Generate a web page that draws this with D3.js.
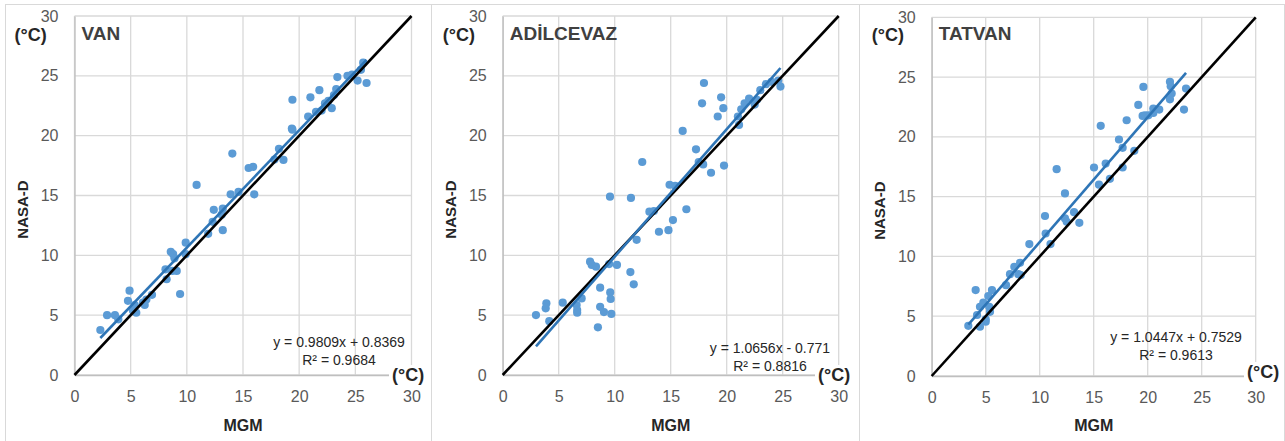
<!DOCTYPE html>
<html><head><meta charset="utf-8">
<script src="https://cdn.jsdelivr.net/npm/d3@7"></script>
<style>body{margin:0;background:#fff}svg{display:block}text{font-family:"Liberation Sans",Arial,sans-serif}</style>
</head><body><svg id="c" width="1285" height="441"></svg>
<script>
const stations = ["VAN", "ADİLCEVAZ", "TATVAN"];
const ticks = [0, 5, 10, 15, 20, 25, 30];
const equations = ["y = 0.9809x + 0.8369", "y = 1.0656x - 0.771", "y = 1.0447x + 0.7529"];
const rSquared = ["R² = 0.9684", "R² = 0.8816", "R² = 0.9613"];
const slopes = [0.9809, 1.0656, 1.0447];
const intercepts = [0.8369, -0.771, 0.7529];

const vanMGM =  [2.3,2.9,3.6,3.9,4.76,4.9,5.2,5.36,5.5,6.1,6.25,6.4,6.9,8.1,8.2,8.57,8.7,8.78,8.9,9.1,9.4,9.9,9.9,10.87,11.9,12.3,12.4,13.1,13.2,13.2,13.9,14.05,14.6,15.5,15.9,16.0,17.8,18.2,18.6,19.35,19.4,19.4,20.8,21.0,21.5,21.8,22.0,22.3,22.6,22.9,23.1,23.3,23.4,24.3,24.7,25.2,25.5,25.7,26.0];
const vanNASA = [3.76,5.0,5.0,4.65,6.2,7.05,5.4,5.85,5.2,6.05,5.85,6.3,6.7,8.83,8.0,10.3,8.7,10.1,9.75,8.7,6.77,10.1,11.06,15.88,11.8,12.8,13.8,13.4,13.9,12.1,15.1,18.5,15.3,17.3,17.4,15.1,18.0,18.9,17.97,20.6,20.5,23.0,21.6,23.2,22.0,23.8,22.1,22.7,22.9,22.3,23.4,23.9,24.9,25.0,25.1,24.6,25.5,26.1,24.4];

const adiMGM =  [2.97,3.84,3.9,4.16,5.36,6.6,6.65,6.65,7.05,7.8,7.95,8.33,8.5,8.7,8.7,9.04,9.5,9.58,9.6,9.64,9.7,10.2,11.4,11.45,11.7,11.96,12.46,13.1,13.5,13.95,14.8,14.9,15.2,15.4,16.07,16.4,17.26,17.5,17.8,17.9,17.97,18.6,19.2,19.5,19.7,19.76,21.0,21.1,21.3,21.6,22.0,22.5,22.7,23.0,23.5,24.0,24.6,24.8];
const adiNASA = [5.01,5.57,5.99,4.5,6.04,5.85,5.43,5.2,6.4,9.47,9.2,9.05,3.98,7.3,5.7,5.26,9.27,14.9,6.9,6.35,5.1,9.2,8.6,14.8,7.58,11.3,17.8,13.65,13.7,11.97,12.1,15.9,12.95,15.8,20.4,13.85,18.86,17.8,22.7,17.6,24.4,16.9,21.6,23.2,22.3,17.5,21.6,20.9,22.2,22.7,23.1,22.6,23.0,23.8,24.3,24.5,24.6,24.1];

const tatMGM =  [3.39,4.07,4.2,4.47,4.47,4.78,5.0,5.0,5.24,5.33,5.4,5.58,6.88,7.25,7.65,8.02,8.18,8.24,9.04,10.49,10.55,11.0,11.57,12.34,12.34,12.5,13.18,13.67,15.03,15.49,15.65,16.11,16.5,17.34,17.68,17.68,18.05,18.76,19.13,19.53,19.6,19.75,20.06,20.52,20.52,21.07,22.06,22.06,22.13,22.22,23.36,23.55];
const tatNASA = [4.2,7.19,5.1,4.12,5.79,6.13,4.74,4.54,6.69,5.79,5.37,7.19,7.6,8.52,9.13,8.52,9.47,8.44,11.03,13.38,11.92,11.03,17.3,15.27,13.18,12.9,13.7,12.81,17.44,16.0,20.92,17.77,16.49,19.78,19.08,17.44,21.39,18.83,22.67,21.75,24.18,21.81,21.8,22.37,22.0,22.28,24.6,23.14,24.23,23.62,22.28,24.04];

const mgmSeries = [vanMGM, adiMGM, tatMGM];
const nasaSeries = [vanNASA, adiNASA, tatNASA];

const panels = [
  {bx0: 5,   bx1: 431,  x0: 74.5,  x1: 411.5,  y0: 375, y1: 16,   eqX: 339,  eqY: 347, cX: 392,  cY: 381},
  {bx0: 431, bx1: 859,  x0: 502.7, x1: 838.7,  y0: 375, y1: 16,   eqX: 770,  eqY: 353, cX: 818,  cY: 381},
  {bx0: 859, bx1: 1284, x0: 931.7, x1: 1255.7, y0: 376, y1: 17.3, eqX: 1176, eqY: 342, cX: 1247, cY: 378}
];

const svg = d3.select("#c");
const gridC = "#d9d9d9", tickC = "#595959", dotC = "#5b9bd5", regC = "#2e75b6";

panels.forEach((p, i) => {
  const g = svg.append("g");
  g.append("rect").attr("x", p.bx0 + 0.5).attr("y", 4.5).attr("width", p.bx1 - p.bx0).attr("height", 445)
    .attr("fill", "none").attr("stroke", gridC).attr("stroke-width", 1);
  const x = d3.scaleLinear().domain([0, 30]).range([p.x0, p.x1]);
  const y = d3.scaleLinear().domain([0, 30]).range([p.y0, p.y1]);
  g.append("g").selectAll("line").data(ticks).join("line")
    .attr("x1", d => x(d)).attr("x2", d => x(d)).attr("y1", y(0)).attr("y2", y(30))
    .attr("stroke", gridC).attr("stroke-width", 1.3);
  g.append("g").selectAll("line").data(ticks).join("line")
    .attr("x1", x(0)).attr("x2", x(30)).attr("y1", d => y(d)).attr("y2", d => y(d))
    .attr("stroke", gridC).attr("stroke-width", 1.3);
  const xa = g.append("g").attr("transform", `translate(0,${y(0)})`)
    .call(d3.axisBottom(x).tickValues(ticks).tickSize(0).tickPadding(16));
  xa.select(".domain").attr("stroke", "#bfbfbf").attr("stroke-width", 1.3);
  xa.selectAll("text").attr("fill", tickC).style("font-size", "16px");
  const ya = g.append("g").attr("transform", `translate(${x(0)},0)`)
    .call(d3.axisLeft(y).tickValues(ticks).tickSize(0).tickPadding(16));
  ya.select(".domain").attr("stroke", "#bfbfbf").attr("stroke-width", 1.3);
  ya.selectAll("text").attr("fill", tickC).style("font-size", "16px");

  const pts = mgmSeries[i].map((m, k) => ({m: m, n: nasaSeries[i][k]}));
  g.append("g").selectAll("circle").data(pts).join("circle")
    .attr("cx", d => x(d.m)).attr("cy", d => y(d.n)).attr("r", 4.1).attr("fill", dotC);

  g.append("line").attr("x1", x(0)).attr("y1", y(0)).attr("x2", x(30)).attr("y2", y(30))
    .attr("stroke", "#000").attr("stroke-width", 2.6);
  const ext = d3.extent(mgmSeries[i]);
  const line = d3.line().x(d => x(d)).y(d => y(slopes[i] * d + intercepts[i]));
  g.append("path").datum(ext).attr("d", line).attr("stroke", regC).attr("stroke-width", 2.6).attr("fill", "none");

  g.append("text").attr("x", x(0) + 7).attr("y", 40).text(stations[i])
    .attr("fill", "#404040").style("font-size", "19px").style("font-weight", "bold");
  g.append("text").attr("x", p.eqX).attr("y", p.eqY).attr("text-anchor", "middle").text(equations[i])
    .attr("fill", "#262626").style("font-size", "14px");
  g.append("text").attr("x", p.eqX).attr("y", p.eqY + 18).attr("text-anchor", "middle").text(rSquared[i])
    .attr("fill", "#262626").style("font-size", "14px");
  g.append("text").attr("x", (x(0) + x(30)) / 2).attr("y", 431).attr("text-anchor", "middle").text("MGM")
    .attr("fill", "#262626").style("font-size", "16px").style("font-weight", "bold");
  g.append("text").attr("transform", `translate(${x(0) - 47},${(y(0) + y(30)) / 2 + 14}) rotate(-90)`)
    .attr("text-anchor", "middle").text("NASA-D")
    .attr("fill", "#262626").style("font-size", "15px").style("font-weight", "bold");
  g.append("text").attr("x", x(0) - 60).attr("y", 41).text("(°C)")
    .attr("fill", "#262626").style("font-size", "18px").style("font-weight", "bold");
  const cx = g.append("text").attr("x", p.cX).attr("y", p.cY).text("(°C)")
    .attr("fill", "#262626").style("font-size", "18px").style("font-weight", "bold");
  const bb = cx.node().getBBox();
  g.insert("rect", () => cx.node()).attr("x", bb.x - 3).attr("y", bb.y).attr("width", bb.width + 6).attr("height", bb.height)
    .attr("fill", "#fff");
});
</script></body></html>
